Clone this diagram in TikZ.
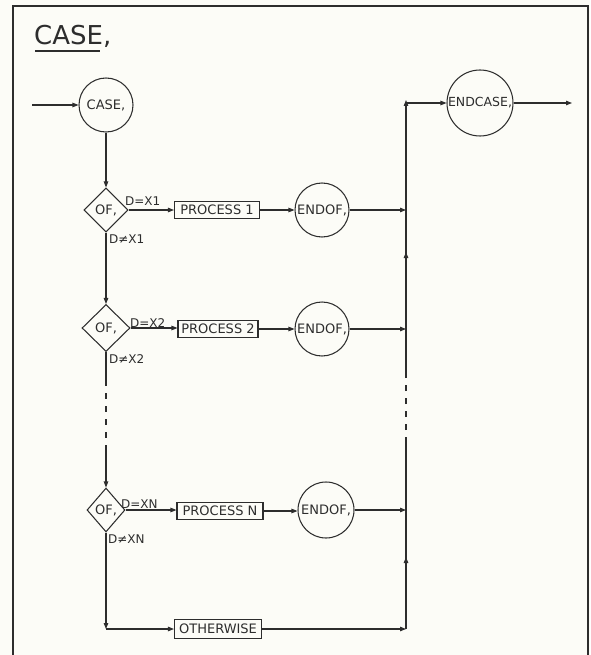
\documentclass[tikz,border=0pt]{standalone}
\usepackage{fontspec}
\setmainfont{DejaVu Sans}
\usetikzlibrary{arrows.meta,shapes.geometric,calc}
\definecolor{ink}{RGB}{45,45,45}
\definecolor{paper}{RGB}{252,252,247}
\begin{document}
\begin{tikzpicture}[x=1pt,y=-1pt,
  every node/.style={text=ink,font=\fontsize{13}{15}\selectfont},
  ln/.style={draw=ink,line width=1.05pt},
  arr/.style={ln,-{Triangle[length=6pt,width=4.5pt]}},
  circ/.style={ln,circle,inner sep=0pt,minimum size=#1},
  dia/.style={ln,diamond,inner sep=0pt,minimum width=#1},
  procbox/.style={ln,rectangle,inner sep=0pt,minimum width=#1,minimum height=17pt},
  lbl/.style={inner sep=0pt,anchor=base west,font=\fontsize{12}{14}\selectfont}]
\useasboundingbox (0,0) rectangle (590,655);
\fill[paper] (0,0) rectangle (590,655);
% frame
\draw[draw=ink,line width=1.8pt] (13,655) -- (13,6) -- (588,6) -- (588,655);
% title
\node[inner sep=0pt,anchor=base west,font=\fontsize{26}{30}\selectfont] (title) at (34,45) {CASE,};
\draw[draw=ink,line width=1.6pt] ($(title.base west)+(1,6)$) -- ++(65,0);
% nodes
\coordinate (in) at (32,105);
\node[circ=54pt] (case) at (106,105) {CASE,};
\node[dia=44pt,minimum height=44pt] (d1) at (106,210) {OF,};
\node[procbox=85pt] (p1) at (217,210) {PROCESS 1};
\node[circ=54pt] (e1) at (322,210) {ENDOF,};
\node[dia=48pt,minimum height=47pt] (d2) at (106,328) {OF,};
\node[procbox=80pt] (p2) at (218,329) {PROCESS 2};
\node[circ=54pt] (e2) at (322,329) {ENDOF,};
\node[dia=38pt,minimum height=44pt] (dN) at (106,510) {OF,};
\node[procbox=86pt] (pN) at (220,511) {PROCESS N};
\node[circ=56pt] (eN) at (326,510) {ENDOF,};
\node[procbox=87pt,minimum height=19pt] (oth) at (218,629) {OTHERWISE};
\node[circ=66pt,font=\fontsize{12.5}{14}\selectfont] (endc) at (480,103) {ENDCASE,};
\coordinate (out) at (572,103);
% bus coordinates
\coordinate (j1) at (406,210);
\coordinate (j2) at (406,329);
\coordinate (jN) at (406,510);
\coordinate (jO) at (406,629);
\coordinate (top) at (406,103);
\coordinate (bl) at (106,629);
\coordinate (ds1) at (106,380);
\coordinate (ds2) at (106,450);
\coordinate (bs1) at (406,443);
\coordinate (bs2) at (406,377);
% labels
\node[lbl] (l1) at (125,205) {D=X1};
\node[lbl] (n1) at (109,243) {D≠X1};
\node[lbl] (l2) at (130,327) {D=X2};
\node[lbl] (n2) at (109,363) {D≠X2};
\node[lbl] (lN) at (121,508) {D=XN};
\node[lbl] (nN) at (108,543) {D≠XN};
% connectors
\draw[arr] (in) -- (case);
\draw[arr] (case) -- (d1);
\draw[arr] (d1.east) -- (p1.west);
\draw[arr] (p1.east) -- (e1.west |- p1.east);
\draw[arr] (e1.east) -- (j1);
\draw[arr] (d1.south) -- (d2.north);
\draw[arr] (d2.east) -- (p2.west |- d2.east);
\draw[arr] (p2.east) -- (e2.west |- p2.east);
\draw[arr] (e2.east) -- (j2);
\draw[ln] (d2.south) -- (ds1);
\draw[ln,dash pattern=on 6pt off 7pt] (ds1) -- (ds2);
\draw[arr] (ds2) -- (dN.north);
\draw[arr] (dN.east) -- (pN.west |- dN.east);
\draw[arr] (pN.east) -- (eN.west |- pN.east);
\draw[arr] (eN.east) -- (jN);
\draw[arr] (dN.south) -- (bl);
\draw[arr] (bl) -- (oth.west);
\draw[arr] (oth.east) -- (jO);
% right bus
\draw[arr] (jO) -- (406,557);
\draw[ln] (406,560) -- (jN) -- (bs1);
\draw[ln,dash pattern=on 6pt off 7pt] (bs1) -- (bs2);
\draw[ln] (bs2) -- (j2);
\draw[arr] (j2) -- (406,252);
\draw[ln] (406,255) -- (j1);
\draw[arr] (j1) -- (406,100);
\draw[arr] (top) -- (endc.west);
\draw[arr] (endc.east) -- (out);
\end{tikzpicture}
\end{document}
